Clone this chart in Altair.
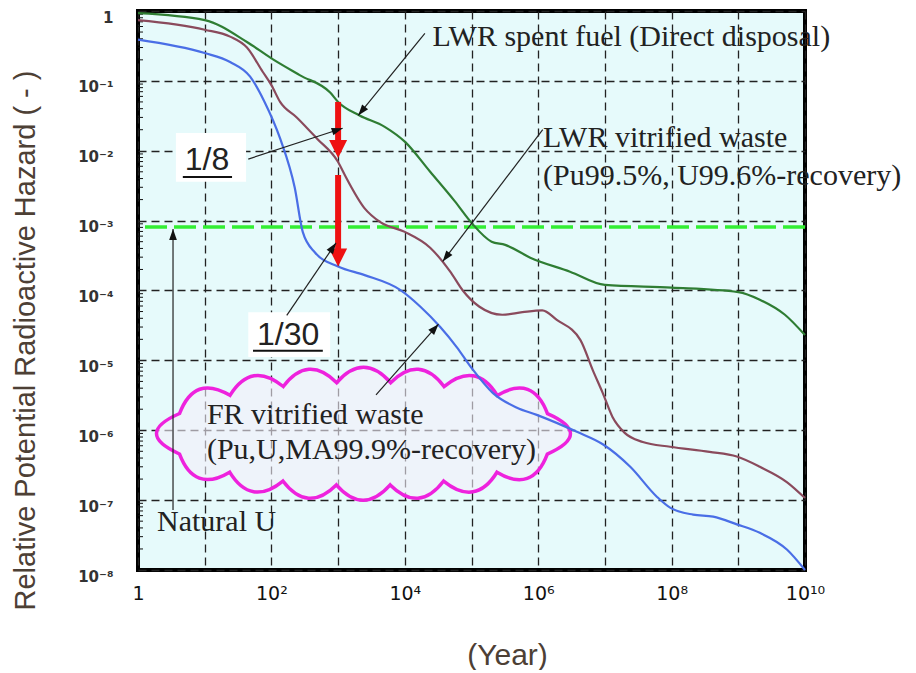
import math
import altair as alt
import pandas as pd

# ---------------- data ----------------
green_years = [1, 10, 43, 100, 270, 760, 1000, 2100, 5000, 1e4, 2.4e4, 5.6e4, 1e5,
               2e5, 3.2e5, 7.6e5, 3e6, 1e7, 1e8, 1e9, 2.1e9, 5e9, 1e10]
green_hazard = [0.93, 0.74, 0.36, 0.21, 0.12, 0.068, 0.050, 0.032, 0.022, 0.0135,
                5.0e-3, 1.9e-3, 9.3e-4, 5.0e-4, 4.5e-4, 2.95e-4, 1.86e-4, 1.2e-4,
                1.1e-4, 9.5e-5, 7.4e-5, 4.5e-5, 2.3e-5]

maroon_years = [1, 10, 24, 43, 74, 100, 135, 240, 480, 1000, 1260, 2500, 4300, 1e4,
                2.4e4, 4.8e4, 7.4e4, 1.3e5, 2.9e5, 5.8e5, 1.15e6, 1.9e6, 4.3e6,
                6.6e6, 9.3e6, 1.3e7, 2e7, 3.7e7, 9.5e7, 3.7e8, 9.5e8, 2.1e9, 5.4e9, 1e10]
maroon_hazard = [0.74, 0.54, 0.43, 0.30, 0.135, 0.087, 0.050, 0.030, 0.015, 6.9e-3,
                 4.5e-3, 1.5e-3, 9.5e-4, 6.9e-4, 4.1e-4, 1.86e-4, 1.0e-4, 5.9e-5,
                 4.5e-5, 4.9e-5, 5.2e-5, 3.8e-5, 1.95e-5, 7.2e-6, 3.4e-6, 1.55e-6,
                 9.1e-7, 6.8e-7, 5.8e-7, 4.9e-7, 4.2e-7, 3.0e-7, 1.8e-7, 1.07e-7]

blue_years = [1, 10, 24, 48, 79, 135, 224, 295, 450, 1000, 2500, 8500, 1.7e4, 3.4e4,
              6e4, 1e5, 2.1e5, 4.8e5, 9.5e5, 3.8e6, 9.3e6, 2.4e7, 6e7, 9.5e7, 2.1e8,
              4.2e8, 9.5e8, 2.1e9, 5.4e9, 1e10]
blue_hazard = [0.39, 0.25, 0.186, 0.115, 0.050, 0.015, 2.95e-3, 6.9e-4, 3.5e-4, 2.2e-4,
               1.66e-4, 1.02e-4, 5.9e-5, 3.0e-5, 1.55e-5, 7.8e-6, 3.4e-6, 2.1e-6,
               1.66e-6, 9.5e-7, 6.3e-7, 3.0e-7, 1.12e-7, 7.8e-8, 6.2e-8, 5.8e-8,
               4.5e-8, 3.4e-8, 1.95e-8, 1.0e-8]

series_names = ["LWR spent fuel", "LWR vitrified waste", "FR vitrified waste"]
series_colors = ["#2f7d33", "#8a4a5c", "#4a6ee6"]

natural_u_level = 8.1e-4

x_ticks = [10 ** e for e in range(0, 11)]
y_ticks = [10 ** e for e in range(-8, 1)]
y_minor_ticks = [k * 10 ** e for e in range(-8, 0) for k in range(2, 10)]

# annotation texts: (text, year, hazard)
serif_notes = [
    ("LWR spent fuel (Direct disposal)", 2.6e4, 0.42),
    ("LWR vitrified waste", 1.18e6, 0.015),
    ("(Pu99.5%, U99.6%-recovery)", 1.18e6, 4.4e-3),
    ("FR vitrified waste", 10.8, 1.66e-6),
    ("(Pu,U,MA99.9%-recovery)", 10.8, 5.2e-7),
    ("Natural U", 1.93, 4.8e-8),
]
ratio_notes = [("1/8", 10.8, 7.4e-3), ("1/30", 178, 2.3e-5)]
ratio_underlines = [(4.7, 25.7, 4.2e-3), (53, 590, 1.37e-5)]
ratio_boxes = [(3.7, 41.7, 0.018, 3.6e-3), (45, 760, 4.9e-5, 1.12e-5)]

# black pointer arrows: (from year, from hazard, to year, to hazard)
black_arrows = [
    (2.0e4, 0.48, 2.0e3, 0.032),
    (45, 7.6e-3, 1.17e3, 0.021),
    (1.17e6, 0.020, 3.7e4, 2.6e-4),
    (170, 4.4e-5, 930, 4.8e-4),
    (3.7e3, 3.2e-6, 3.2e4, 3.3e-5),
    (3.35, 7.2e-8, 3.35, 7.6e-4),
]
# red reduction arrows at 1000 years
red_arrows = [
    (1000, 0.05, 1000, 7.9e-3),
    (1000, 4.5e-3, 1000, 2.2e-4),
]
cloud_center = (2.4e3, 8.9e-7)

# ---------------- geometry helpers ----------------
W, H = 667, 559
DEC_X, DEC_Y = 10.0, 8.0


def screen_angle(x1, y1, x2, y2):
    dx = (math.log10(x2) - math.log10(x1)) / DEC_X * W
    dy = -(math.log10(y2) - math.log10(y1)) / DEC_Y * H
    return math.degrees(math.atan2(dx, -dy)) % 360


def pull_back(x1, y1, x2, y2, px):
    dx = (math.log10(x2) - math.log10(x1)) / DEC_X * W
    dy = -(math.log10(y2) - math.log10(y1)) / DEC_Y * H
    L = math.hypot(dx, dy)
    ux, uy = dx / L, dy / L
    nx = math.log10(x2) - ux * px / W * DEC_X
    ny = math.log10(y2) + uy * px / H * DEC_Y
    return 10 ** nx, 10 ** ny


def cloud_path(n=16, a0=0.93, b0=0.24, d=0.14):
    N = 3000
    ts = [2 * math.pi * i / N for i in range(N + 1)]
    pts = [(a0 * math.cos(t), b0 * math.sin(t)) for t in ts]
    cum = [0.0]
    for i in range(1, N + 1):
        cum.append(cum[-1] + math.dist(pts[i], pts[i - 1]))
    L = cum[-1]

    def t_at(s):
        lo, hi = 0, N
        while hi - lo > 1:
            m = (lo + hi) // 2
            if cum[m] < s:
                lo = m
            else:
                hi = m
        return ts[hi]

    def ept(t):
        return a0 * math.cos(t), b0 * math.sin(t)

    def normal(t):
        nx, ny = b0 * math.cos(t), a0 * math.sin(t)
        m = math.hypot(nx, ny)
        return nx / m, ny / m

    knots = [t_at(L * (k + 0.5) / n) for k in range(n)]
    mids = [t_at(L * ((k + 1) % n) / n) if k < n - 1 else 0.0 for k in range(n)]
    p0 = ept(knots[0])
    s = f"M{p0[0]:.4f},{p0[1]:.4f}"
    for k in range(n):
        tm = mids[k]
        e = ept(tm)
        nn = normal(tm)
        c = (e[0] + d * nn[0], e[1] + d * nn[1])
        p1 = ept(knots[(k + 1) % n])
        s += f" Q{c[0]:.4f},{c[1]:.4f} {p1[0]:.4f},{p1[1]:.4f}"
    return s + " Z"


SUP = {"0": "⁰", "1": "¹", "2": "²", "3": "³", "4": "⁴", "5": "⁵", "6": "⁶",
       "7": "⁷", "8": "⁸", "9": "⁹", "-": "⁻"}


def pow_label(e):
    return "1" if e == 0 else "10" + "".join(SUP[c] for c in str(e))


def y_label_expr():
    parts = []
    for e in range(0, -9, -1):
        parts.append(f"datum.value > {10 ** (e - 0.5):.3e} ? '{pow_label(e)}'")
    return " : ".join(parts) + " : ''"


def x_label_expr():
    parts = []
    for e in range(10, -1, -1):
        lab = pow_label(e) if e % 2 == 0 else ""
        parts.append(f"datum.value > {10 ** (e - 0.5):.3e} ? '{lab}'")
    return " : ".join(parts) + " : ''"


# ---------------- tables ----------------
curves = pd.concat([
    pd.DataFrame({"years": green_years, "hazard": green_hazard, "series": series_names[0], "order": range(len(green_years))}),
    pd.DataFrame({"years": maroon_years, "hazard": maroon_hazard, "series": series_names[1], "order": range(len(maroon_years))}),
    pd.DataFrame({"years": blue_years, "hazard": blue_hazard, "series": series_names[2], "order": range(len(blue_years))}),
])

black_shafts = pd.DataFrame([{"x1": a, "y1": b, "x2": c, "y2": d} for a, b, c, d in black_arrows])
black_heads = pd.DataFrame([{"x": c, "y": d, "angle": screen_angle(a, b, c, d)} for a, b, c, d in black_arrows])
red_rows = []
red_head_rows = []
for a, b, c, d in red_arrows:
    ex, ey = pull_back(a, b, c, d, 8)
    red_rows.append({"x1": a, "y1": b, "x2": ex, "y2": ey})
    red_head_rows.append({"x": c, "y": d, "angle": screen_angle(a, b, c, d)})
red_shafts = pd.DataFrame(red_rows)
red_heads = pd.DataFrame(red_head_rows)

serif_df = pd.DataFrame(serif_notes, columns=["text", "x", "y"])
ratio_df = pd.DataFrame(ratio_notes, columns=["text", "x", "y"])
under_df = pd.DataFrame(ratio_underlines, columns=["x1", "x2", "y"])
box_df = pd.DataFrame(ratio_boxes, columns=["x1", "x2", "y1", "y2"])
cloud_df = pd.DataFrame([{"x": cloud_center[0], "y": cloud_center[1]}])
nat_df = pd.DataFrame([{"y": natural_u_level}])
minor_df = pd.DataFrame({"y": y_minor_ticks, "x1": 1.0, "x2": 10 ** (5 / W * DEC_X)})

# ---------------- scales / axes ----------------
xscale = alt.Scale(type="log", domain=[1, 1e10], nice=False)
yscale = alt.Scale(type="log", domain=[1e-8, 1], nice=False)

GRID = dict(grid=True, gridDash=[8, 5], gridColor="#222222", gridWidth=1.3, gridOpacity=1,
            domain=False, ticks=False, labelOverlap=False, labelFlush=False)

xaxis = alt.Axis(values=x_ticks, labelExpr=x_label_expr(), labelFont="DejaVu Sans",
                 labelFontSize=19, labelColor="#111111", labelPadding=14,
                 title="(Year)", titleFont="Liberation Sans", titleFontSize=30,
                 titleFontWeight="normal", titleColor="#4d4035", titleX=369, titleY=85,
                 titleAlign="center", titleBaseline="middle", **GRID)
yaxis = alt.Axis(values=y_ticks, labelExpr=y_label_expr(), labelFont="DejaVu Sans",
                 labelFontSize=15, labelFontWeight="bold", labelColor="#333333",
                 labelPadding=25, labelOffset=6,
                 title="Relative Potential Radioactive Hazard ( - )", titleFont="Liberation Sans",
                 titleFontSize=29, titleFontWeight="normal", titleColor="#4d4035",
                 titleAngle=270, titleX=-113, titleY=329, titleAlign="center",
                 titleBaseline="middle", **GRID)


def X(f):
    return alt.X(f, type="quantitative", scale=xscale, axis=xaxis)


def Y(f):
    return alt.Y(f, type="quantitative", scale=yscale, axis=yaxis)


cloud = alt.Chart(cloud_df).mark_point(
    shape=cloud_path(), size=430 ** 2, filled=True, fill="#f4eefa", fillOpacity=0.6,
    stroke="#ee22dd", strokeOpacity=1, strokeWidth=3.5, opacity=1
).encode(x=X("x"), y=Y("y"))

boxes = alt.Chart(box_df).mark_rect(fill="white", opacity=1).encode(
    x=X("x1"), x2="x2", y=Y("y1"), y2="y2")

minor = alt.Chart(minor_df).mark_rule(color="#111111", strokeWidth=1).encode(
    x=X("x1"), x2="x2", y=Y("y"))

nat_line = alt.Chart(nat_df).mark_rule(color="#33ee33", strokeWidth=3.5, strokeDash=[22, 7]).encode(
    y=Y("y"))

lines = alt.Chart(curves).mark_line(strokeWidth=2.2, interpolate="monotone").encode(
    x=X("years"), y=Y("hazard"), order="order:Q",
    color=alt.Color("series:N", scale=alt.Scale(domain=series_names, range=series_colors), legend=None),
    detail="series:N")

red_shaft = alt.Chart(red_shafts).mark_rule(color="#ee1111", strokeWidth=6).encode(
    x=X("x1"), x2="x2", y=Y("y1"), y2="y2")
red_head = alt.Chart(red_heads).mark_point(
    shape="M0,0 L-0.5,1 L0.5,1 Z", size=1296, filled=True, color="#ee1111", opacity=1, strokeWidth=0
).encode(x=X("x"), y=Y("y"), angle=alt.Angle("angle:Q", scale=None))

blk_shaft = alt.Chart(black_shafts).mark_rule(color="#222222", strokeWidth=1.2).encode(
    x=X("x1"), x2="x2", y=Y("y1"), y2="y2")
blk_head = alt.Chart(black_heads).mark_point(
    shape="M0,0 L-0.35,1 L0.35,1 Z", size=484, filled=True, color="#111111", opacity=1, strokeWidth=0
).encode(x=X("x"), y=Y("y"), angle=alt.Angle("angle:Q", scale=None))

serif_text = alt.Chart(serif_df).mark_text(
    font="Liberation Serif", fontSize=30, color="#222222", align="left", baseline="middle"
).encode(x=X("x"), y=Y("y"), text="text:N")

ratio_text = alt.Chart(ratio_df).mark_text(
    font="Liberation Sans", fontSize=32, color="#222222", align="center", baseline="middle"
).encode(x=X("x"), y=Y("y"), text="text:N")

underline = alt.Chart(under_df).mark_rule(color="#111111", strokeWidth=2).encode(
    x=X("x1"), x2="x2", y=Y("y"))

chart = alt.layer(
    cloud, minor, nat_line, lines, boxes, red_shaft, red_head, blk_shaft, blk_head,
    serif_text, ratio_text, underline
).properties(
    width=W, height=H,
    padding={"left": 130, "top": 3, "right": 103, "bottom": 100},
    autosize=alt.AutoSizeParams(type="none"),
).configure_view(stroke="#000000", strokeWidth=4, fill="#e6fafb")

chart.save("out.html", embed_options={"renderer": "svg", "actions": False})
